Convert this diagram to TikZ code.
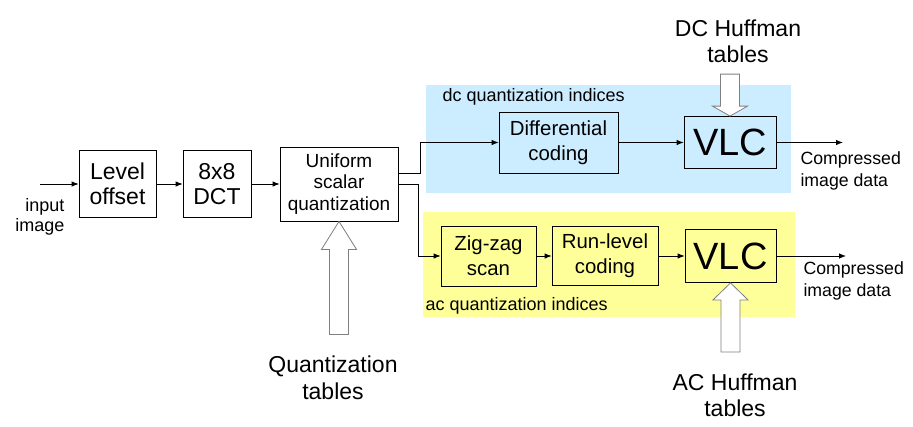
\documentclass[tikz,border=0pt]{standalone}
\usepackage{fontspec}
\setmainfont{Liberation Sans}
\usetikzlibrary{arrows.meta}
\definecolor{dcblue}{RGB}{204,236,255}
\definecolor{acyellow}{RGB}{255,255,153}
\newcommand\fs[2]{\fontsize{#1}{#2}\selectfont}
\begin{document}
\begin{tikzpicture}[x=1pt,y=-1pt,
  block/.style={draw,line width=0.8pt,align=center,inner sep=0pt},
  link/.style={-{Latex[length=7pt,width=5.5pt]},line width=0.8pt},
  hollow/.style={draw=gray,line width=0.8pt,fill=white}]
  \useasboundingbox (0,0) rectangle (913,426);
  \fill[dcblue] (426,85) rectangle (791,193);
  \fill[acyellow] (423,212) rectangle (795,317);
  \node[block,minimum width=77,minimum height=66.6,font={\fs{23}{25}}] (lvl) at (117.5,184) {Level\\offset};
  \node[block,minimum width=68,minimum height=66.6,font={\fs{23}{25}}] (dct) at (217,184) {8x8\\DCT};
  \node[block,minimum width=118,minimum height=74,font={\fs{19}{21.5}}] (uq) at (339,184) {Uniform\\scalar\\quantization};
  \node[block,minimum width=119,minimum height=61,font={\fs{20.4}{25}}] (diff) at (558.5,142.5) {Differential\\coding};
  \node[block,minimum width=92,minimum height=52,font={\fs{38}{40}}] (vlcdc) at (730,142.5) {VLC};
  \node[block,minimum width=95,minimum height=60,font={\fs{20.4}{25}}] (zz) at (488.5,256) {Zig-zag\\scan};
  \node[block,minimum width=106,minimum height=59,font={\fs{20.4}{25}}] (rl) at (605,256) {Run-level\\coding};
  \node[block,minimum width=91,minimum height=53,font={\fs{38}{40}}] (vlcac) at (730.5,256) {VLC};
  \coordinate (in) at (40,184);
  \coordinate (outdc) at (843,142.5);
  \coordinate (outac) at (846,256);
  \node[anchor=east,align=right,font={\fs{18}{20}}] (inlbl) at (68,217) {input\\image};
  \node[anchor=west,font={\fs{18}{20}}] (dclbl) at (439,97) {dc quantization indices};
  \node[anchor=west,font={\fs{18}{20}}] (aclbl) at (422,306) {ac quantization indices};
  \node[anchor=west,align=left,font={\fs{17.7}{22}}] (outdclbl) at (797,171) {Compressed\\image data};
  \node[anchor=west,align=left,font={\fs{17.7}{22}}] (outaclbl) at (800,280.5) {Compressed\\image data};
  \node[align=center,font={\fs{23}{26}}] (dctab) at (738,41) {DC Huffman\\tables};
  \node[align=center,font={\fs{23}{26}}] (actab) at (735,395.5) {AC Huffman\\tables};
  \node[align=center,font={\fs{23}{27}}] (qtab) at (333,377.5) {Quantization\\tables};
  \foreach \tip/\dir/\hd/\len in {uq.south/1/28/113, vlcdc.north/-1/10/42, vlcac.south/1/17/69}
    \draw[hollow] (\tip) -- ++(17.5,\hd*\dir) -- ++(-8,0) -- ++(0,{(\len-\hd)*\dir})
      -- ++(-19,0) -- ++(0,{-(\len-\hd)*\dir}) -- ++(-8,0) -- cycle;
  \draw[link] (in) -- (lvl);
  \draw[link] (lvl) -- (dct);
  \draw[link] (dct) -- (uq);
  \draw[link] ([yshift=11pt]uq.east) -- ++(22,0) |- (diff.west);
  \draw[link] (uq.east) -- ++(20,0) |- (zz.west);
  \draw[link] (diff) -- (vlcdc);
  \draw[link] (zz) -- (rl);
  \draw[link] (rl) -- (vlcac);
  \draw[link] (vlcdc) -- (outdc);
  \draw[link] (vlcac) -- (outac);
\end{tikzpicture}
\end{document}
